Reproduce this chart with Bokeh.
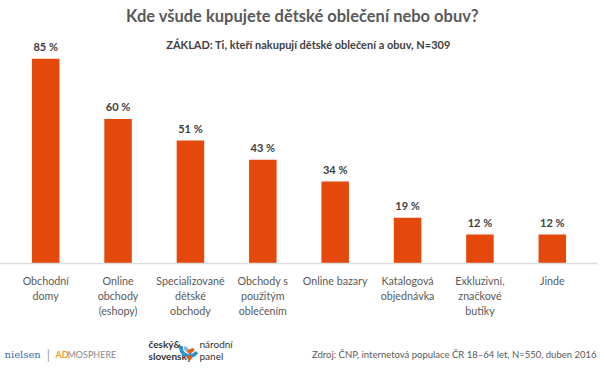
from bokeh.plotting import figure
from bokeh.models import Range1d, Label, FactorRange
from bokeh.layouts import column
from bokeh.core.properties import value
from bokeh.embed import file_html
from bokeh.resources import INLINE

categories = ["Obchodní\ndomy", "Online\nobchody\n(eshopy)", "Specializované\ndětské\nobchody",
              "Obchody s\npoužitým\noblečením", "Online bazary", "Katalogová\nobjednávka",
              "Exkluzivní,\nznačkové\nbutiky", "Jinde"]
values = [85, 60, 51, 43, 34, 19, 12, 12]
value_labels = [f"{v} %" for v in values]

title_text = "Kde všude kupujete dětské oblečení nebo obuv?"
subtitle_text = "ZÁKLAD: Ti, kteří nakupují dětské oblečení a obuv, N=309"
source_text = "Zdroj: ČNP, internetová populace ČR 18–64 let, N=550, duben 2016"

FONT = "Lato"
BAR = "#E4480B"
TXT = "#595959"

W = 600
H_MAIN, H_FOOT = 333, 39
RIGHT, BOTTOM = 3, 70
FRAME_W = W - RIGHT
frame_h = H_MAIN - BOTTOM
PX_PER_PCT = 2.41
YMAX = frame_h / PX_PER_PCT
CAT_W = 72.375
PAD = (FRAME_W / CAT_W - len(categories)) / 2

p = figure(width=W, height=H_MAIN,
           x_range=FactorRange(*categories, range_padding=PAD, range_padding_units="absolute"),
           y_range=Range1d(0, YMAX), output_backend="svg", toolbar_location=None,
           min_border_left=0, min_border_right=RIGHT, min_border_top=0,
           min_border_bottom=BOTTOM, outline_line_color=None)

p.vbar(x=categories, top=values, width=0.38, fill_color=BAR, line_color=None)
p.text(x=categories, y=values, text=value_labels, text_align="center",
       text_baseline="bottom", y_offset=-6, text_font_size="11px",
       text_font_style="bold", text_color="#404040", text_font=value(FONT))

p.grid.visible = False
p.yaxis.visible = False
ax = p.xaxis[0]
ax.axis_line_color = "#DCDCDC"
ax.axis_line_width = 1.5
ax.major_tick_line_color = None
ax.minor_tick_line_color = None
ax.major_label_text_font = FONT
ax.major_label_text_font_size = "10.7px"
ax.major_label_text_line_height = 1.18
ax.major_label_text_color = TXT
ax.major_label_standoff = 4

# page pixel -> data coordinate helpers (layout text only)
def dx(px):
    return px / CAT_W - PAD

def dy(py):
    return (frame_h - py) / PX_PER_PCT

p.add_layout(Label(x=dx(302), y=dy(15), text=title_text, text_align="center",
                   text_baseline="middle", text_font=FONT, text_font_size="16.5px",
                   text_font_style="bold", text_color=TXT))
p.add_layout(Label(x=dx(308), y=dy(44), text=subtitle_text, text_align="center",
                   text_baseline="middle", text_font=FONT, text_font_size="11px",
                   text_font_style="bold", text_color="#404040"))

# footer figure in page-pixel coordinates
f = figure(width=W, height=H_FOOT, x_range=Range1d(0, FRAME_W),
           y_range=Range1d(H_MAIN + H_FOOT, H_MAIN),
           output_backend="svg", toolbar_location=None, min_border_left=0,
           min_border_right=RIGHT, min_border_top=0, min_border_bottom=0,
           x_axis_type=None, y_axis_type=None, outline_line_color=None)
f.grid.visible = False

f.text(x=[596], y=[354], text=[source_text], text_align="right", text_baseline="middle",
       text_font=value(FONT), text_font_size="9.5px", text_color=TXT)
f.text(x=[4], y=[354], text=["nielsen"], text_align="left", text_baseline="middle",
       text_font=value("DejaVu Serif"), text_font_size="10px", text_color="#3C6EA8")
f.text(x=[48], y=[354], text=["|"], text_align="center", text_baseline="middle",
       text_font=value(FONT), text_font_size="13px", text_color="#A0A0A0")
f.text(x=[55], y=[354], text=["AD"], text_align="left", text_baseline="middle",
       text_font=value(FONT), text_font_size="9px", text_font_style="bold", text_color="#F0A030")
f.text(x=[67], y=[354], text=["MOSPHERE"], text_align="left", text_baseline="middle",
       text_font=value(FONT), text_font_size="9px", text_color="#8A8A8A")
f.text(x=[148, 148], y=[343, 355], text=["český&", "slovenský"], text_align="left",
       text_baseline="middle", text_font=value(FONT), text_font_size="10px",
       text_font_style="bold", text_color="#333333")
f.text(x=[199, 199], y=[343, 355], text=["národní", "panel"], text_align="left",
       text_baseline="middle", text_font=value(FONT), text_font_size="10px",
       text_color="#333333")
# logo arcs
f.annular_wedge(x=[189], y=[347], inner_radius=7, outer_radius=10, start_angle=-0.6,
                end_angle=3.0, color="#2F8FD0", direction="clock")
f.annular_wedge(x=[189], y=[347], inner_radius=2.5, outer_radius=5, start_angle=-0.4,
                end_angle=3.0, color="#7FB8E0", direction="clock")
f.annular_wedge(x=[189], y=[347], inner_radius=2.5, outer_radius=5, start_angle=-0.4,
                end_angle=-1.9, color="#E4600B", direction="clock")
f.scatter(x=[189], y=[357], size=4, color="#E4600B")

open("out.html", "w").write(file_html(column(p, f, spacing=0), INLINE))
